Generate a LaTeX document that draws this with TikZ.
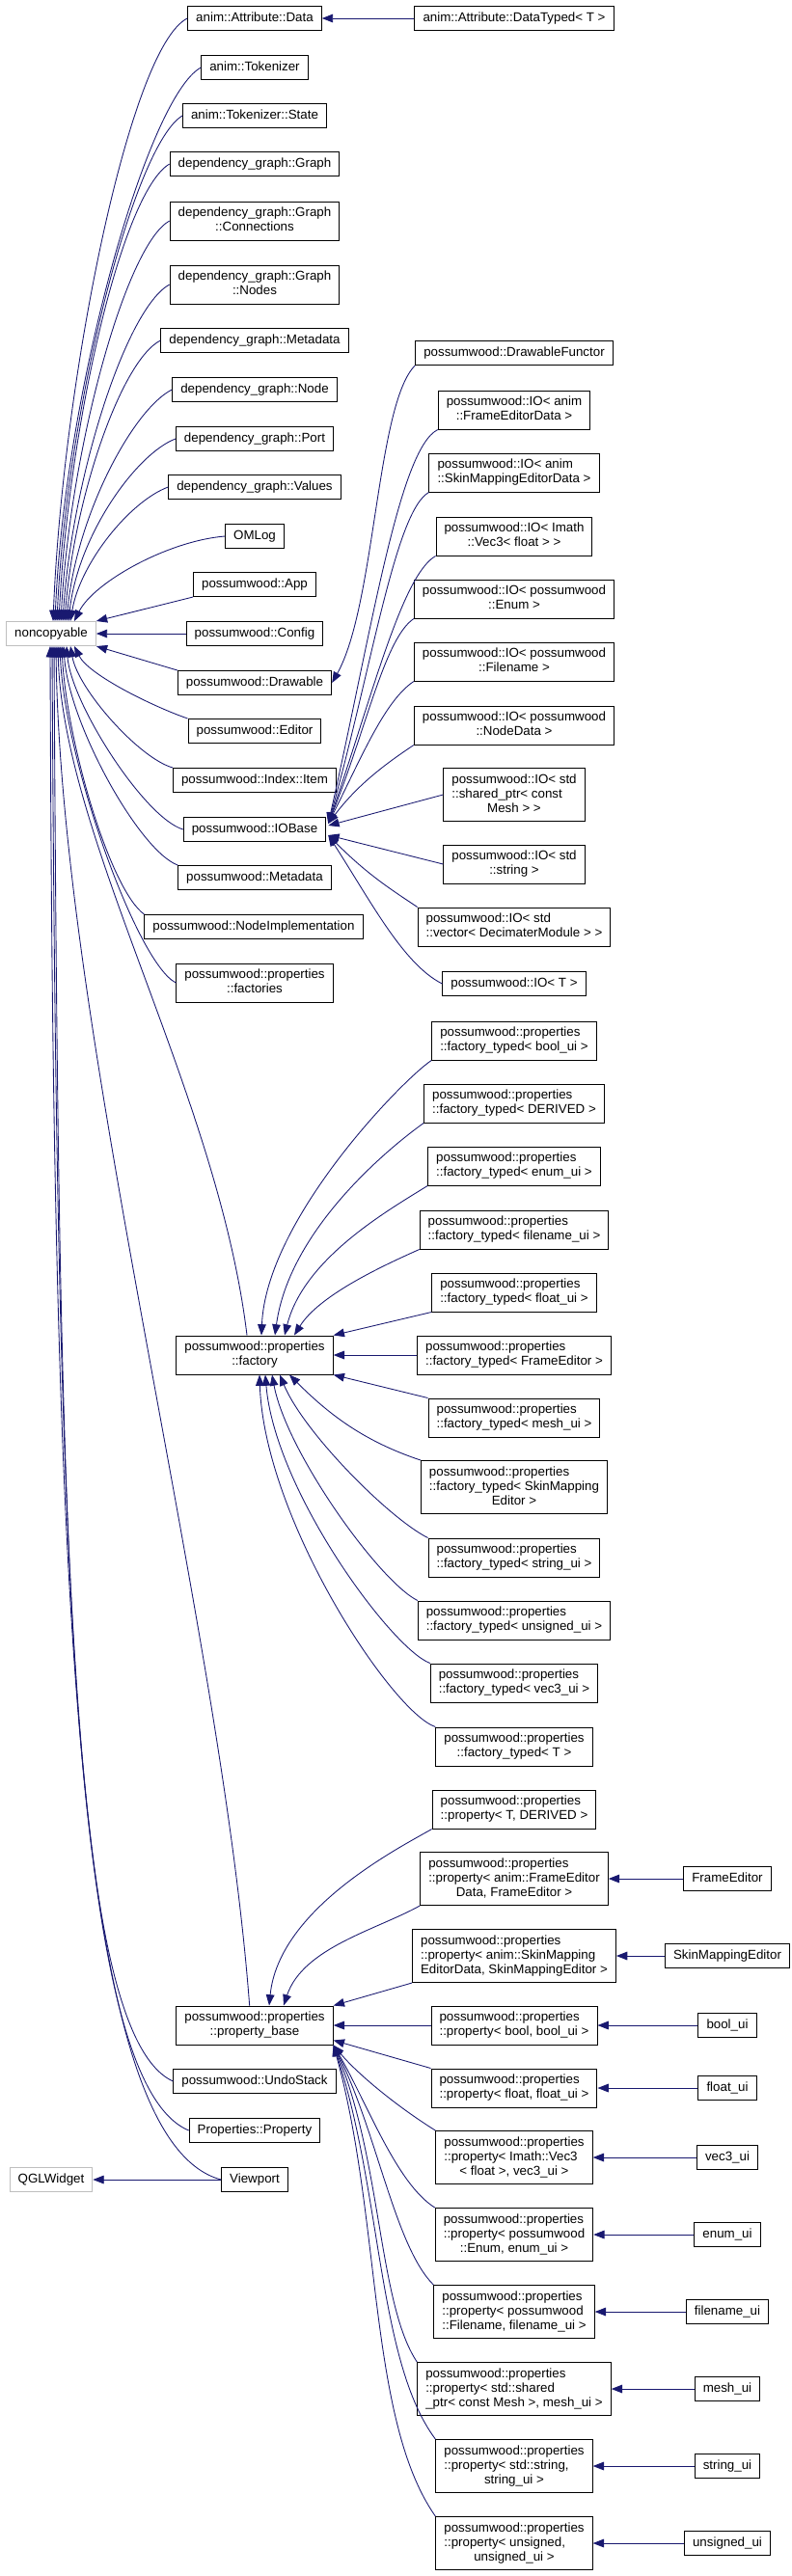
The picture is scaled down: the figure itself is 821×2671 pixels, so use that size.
\documentclass[tikz,border=0pt]{standalone}
\usepackage{fontspec}
\setmainfont{Liberation Sans}
\usetikzlibrary{arrows.meta,calc}
\definecolor{edgeblue}{RGB}{25,25,112}
\definecolor{extgray}{RGB}{191,191,191}
% all lines but the last one left aligned, the last one centred
\newcommand{\clsl}[2]{\begin{tabular}{@{}l@{}}#1\\\multicolumn{1}{@{}c@{}}{#2}\end{tabular}}

\begin{document}
\begin{tikzpicture}[x=0.75pt, y=-0.75pt,
  cls/.style={draw=black, line width=0.75pt, fill=white, inner xsep=6.4pt,
              inner ysep=3.75pt, font=\fontsize{10}{11.25}\selectfont,
              execute at begin node=\strut},
  ext/.style={cls, draw=extgray},
  inh/.style={draw=edgeblue, line width=0.65pt,
              -{Triangle[length=8.5pt,width=6.5pt]}}]
  \useasboundingbox (0,0) rectangle (821,2671);

  % bases
  \node[ext] (nc)  at (53,657)  {noncopyable};
  \node[ext] (qgl) at (53,2260) {QGLWidget};

  % second column
  \node[cls] (attrdata)  at (264,19)   {anim::Attribute::Data};
  \node[cls] (tok)       at (264,70)   {anim::Tokenizer};
  \node[cls] (tokstate)  at (264,120)  {anim::Tokenizer::State};
  \node[cls] (dggraph)   at (264,170)  {dependency\_graph::Graph};
  \node[cls] (dgconn)    at (264,229)  {\clsl{dependency\_graph::Graph}{::Connections}};
  \node[cls] (dgnodes)   at (264,295)  {\clsl{dependency\_graph::Graph}{::Nodes}};
  \node[cls] (dgmeta)    at (264,353)  {dependency\_graph::Metadata};
  \node[cls] (dgnode)    at (264,404)  {dependency\_graph::Node};
  \node[cls] (dgport)    at (264,455)  {dependency\_graph::Port};
  \node[cls] (dgvalues)  at (264,505)  {dependency\_graph::Values};
  \node[cls] (omlog)     at (264,556)  {OMLog};
  \node[cls] (app)       at (264,606)  {possumwood::App};
  \node[cls] (config)    at (264,657)  {possumwood::Config};
  \node[cls] (drawable)  at (264,708)  {possumwood::Drawable};
  \node[cls] (editor)    at (264,758)  {possumwood::Editor};
  \node[cls] (idxitem)   at (264,809)  {possumwood::Index::Item};
  \node[cls] (iobase)    at (264,860)  {possumwood::IOBase};
  \node[cls] (pwmeta)    at (264,910)  {possumwood::Metadata};
  \node[cls] (nodeimpl)  at (263,961)  {possumwood::NodeImplementation};
  \node[cls] (factories) at (264,1019) {\clsl{possumwood::properties}{::factories}};
  \node[cls] (factory)   at (264,1405) {\clsl{possumwood::properties}{::factory}};
  \node[cls] (propbase)  at (264,2100) {\clsl{possumwood::properties}{::property\_base}};
  \node[cls] (undo)      at (264,2158) {possumwood::UndoStack};
  \node[cls] (propprop)  at (264,2209) {Properties::Property};
  \node[cls] (viewport)  at (264,2260) {Viewport};

  % third column
  \node[cls] (attrtyped) at (533,19)   {anim::Attribute::DataTyped< T >};
  \node[cls] (drawfunc)  at (533,366)  {possumwood::DrawableFunctor};
  \node[cls] (ioframe)   at (533,425)  {\clsl{possumwood::IO< anim}{::FrameEditorData >}};
  \node[cls] (ioskin)    at (533,490)  {\clsl{possumwood::IO< anim}{::SkinMappingEditorData >}};
  \node[cls] (iovec)     at (533,556)  {\clsl{possumwood::IO< Imath}{::Vec3< float > >}};
  \node[cls] (ioenum)    at (533,621)  {\clsl{possumwood::IO< possumwood}{::Enum >}};
  \node[cls] (iofile)    at (533,686)  {\clsl{possumwood::IO< possumwood}{::Filename >}};
  \node[cls] (ionode)    at (533,752)  {\clsl{possumwood::IO< possumwood}{::NodeData >}};
  \node[cls] (ioshared)  at (533,824)  {\clsl{possumwood::IO< std\\::shared\_ptr< const}{Mesh > >}};
  \node[cls] (iostring)  at (533,896)  {\clsl{possumwood::IO< std}{::string >}};
  \node[cls] (iovector)  at (533,961)  {\clsl{possumwood::IO< std}{::vector< DecimaterModule > >}};
  \node[cls] (iot)       at (533,1020) {possumwood::IO< T >};
  \node[cls] (ftbool)    at (533,1079) {\clsl{possumwood::properties}{::factory\_typed< bool\_ui >}};
  \node[cls] (ftderived) at (533,1144) {\clsl{possumwood::properties}{::factory\_typed< DERIVED >}};
  \node[cls] (ftenum)    at (533,1209) {\clsl{possumwood::properties}{::factory\_typed< enum\_ui >}};
  \node[cls] (ftfile)    at (533,1275) {\clsl{possumwood::properties}{::factory\_typed< filename\_ui >}};
  \node[cls] (ftfloat)   at (533,1340) {\clsl{possumwood::properties}{::factory\_typed< float\_ui >}};
  \node[cls] (ftframe)   at (533,1405) {\clsl{possumwood::properties}{::factory\_typed< FrameEditor >}};
  \node[cls] (ftmesh)    at (533,1470) {\clsl{possumwood::properties}{::factory\_typed< mesh\_ui >}};
  \node[cls] (ftskin)    at (533,1542) {\clsl{possumwood::properties\\::factory\_typed< SkinMapping}{Editor >}};
  \node[cls] (ftstring)  at (533,1615) {\clsl{possumwood::properties}{::factory\_typed< string\_ui >}};
  \node[cls] (ftunsigned) at (533,1680) {\clsl{possumwood::properties}{::factory\_typed< unsigned\_ui >}};
  \node[cls] (ftvec)     at (533,1745) {\clsl{possumwood::properties}{::factory\_typed< vec3\_ui >}};
  \node[cls] (ftt)       at (533,1811) {\clsl{possumwood::properties}{::factory\_typed< T >}};
  \node[cls] (prt)       at (533,1876) {\clsl{possumwood::properties}{::property< T, DERIVED >}};
  \node[cls] (prframe)   at (533,1948) {\clsl{possumwood::properties\\::property< anim::FrameEditor}{Data, FrameEditor >}};
  \node[cls] (prskin)    at (533,2028) {\clsl{possumwood::properties\\::property< anim::SkinMapping}{EditorData, SkinMappingEditor >}};
  \node[cls] (prbool)    at (533,2100) {\clsl{possumwood::properties}{::property< bool, bool\_ui >}};
  \node[cls] (prfloat)   at (533,2165) {\clsl{possumwood::properties}{::property< float, float\_ui >}};
  \node[cls] (prvec)     at (533,2237) {\clsl{possumwood::properties\\::property< Imath::Vec3}{< float >, vec3\_ui >}};
  \node[cls] (prenum)    at (533,2317) {\clsl{possumwood::properties\\::property< possumwood}{::Enum, enum\_ui >}};
  \node[cls] (prfile)    at (533,2397) {\clsl{possumwood::properties\\::property< possumwood}{::Filename, filename\_ui >}};
  \node[cls] (prmesh)    at (533,2477) {\clsl{possumwood::properties\\::property< std::shared}{\_ptr< const Mesh >, mesh\_ui >}};
  \node[cls] (prstring)  at (533,2557) {\clsl{possumwood::properties\\::property< std::string,}{string\_ui >}};
  \node[cls] (prunsigned) at (533,2637) {\clsl{possumwood::properties\\::property< unsigned,}{unsigned\_ui >}};

  % fourth column
  \node[cls] (frameed)    at (754,1948) {FrameEditor};
  \node[cls] (skined)     at (754,2028) {SkinMappingEditor};
  \node[cls] (boolui)     at (754,2100) {bool\_ui};
  \node[cls] (floatui)    at (754,2165) {float\_ui};
  \node[cls] (vecui)      at (754,2237) {vec3\_ui};
  \node[cls] (enumui)     at (754,2317) {enum\_ui};
  \node[cls] (fileui)     at (754,2397) {filename\_ui};
  \node[cls] (meshui)     at (754,2477) {mesh\_ui};
  \node[cls] (stringui)   at (754,2557) {string\_ui};
  \node[cls] (unsignedui) at (754,2637) {unsigned\_ui};

  % noncopyable, from above
  \draw[inh] (attrdata.west) .. controls +(-60,30) and +(10,-250) .. ($(nc.north)+(2,0)$);
  \draw[inh] (tok.west)      .. controls +(-55,30) and +(10,-240) .. ($(nc.north)+(4,0)$);
  \draw[inh] (tokstate.west) .. controls +(-50,30) and +(10,-220) .. ($(nc.north)+(6,0)$);
  \draw[inh] (dggraph.west)  .. controls +(-50,30) and +(10,-200) .. ($(nc.north)+(8,0)$);
  \draw[inh] (dgconn.west)   .. controls +(-45,25) and +(10,-180) .. ($(nc.north)+(10,0)$);
  \draw[inh] (dgnodes.west)  .. controls +(-45,25) and +(10,-150) .. ($(nc.north)+(12,0)$);
  \draw[inh] (dgmeta.west)   .. controls +(-40,20) and +(10,-130) .. ($(nc.north)+(14,0)$);
  \draw[inh] (dgnode.west)   .. controls +(-40,20) and +(10,-110) .. ($(nc.north)+(16,0)$);
  \draw[inh] (dgport.west)   .. controls +(-40,15) and +(10,-90)  .. ($(nc.north)+(18,0)$);
  \draw[inh] (dgvalues.west) .. controls +(-40,15) and +(10,-60)  .. ($(nc.north)+(20,0)$);
  \draw[inh] (omlog.west)    .. controls +(-60,5)  and +(20,-40)  .. ($(nc.north)+(24,0)$);
  \draw[inh] (app.south west) -- (nc.north east);
  \draw[inh] (config.west) -- (nc.east);

  % noncopyable, from below
  \draw[inh] (drawable.north west) -- (nc.south east);
  \draw[inh] (editor.north west)  .. controls +(-35,-12) and +(15,30)  .. ($(nc.south)+(24,0)$);
  \draw[inh] (idxitem.north west) .. controls +(-35,-10) and +(8,45)   .. ($(nc.south)+(20,0)$);
  \draw[inh] (iobase.west)        .. controls +(-40,-12) and +(5,60)   .. ($(nc.south)+(16,0)$);
  \draw[inh] (pwmeta.north west)  .. controls +(-40,-15) and +(5,80)   .. ($(nc.south)+(13,0)$);
  \draw[inh] (nodeimpl.north west) .. controls +(-35,-25) and +(5,100) .. ($(nc.south)+(11,0)$);
  \draw[inh] (factories.west)     .. controls +(-40,-20) and +(5,120)  .. ($(nc.south)+(9,0)$);
  \draw[inh] ([xshift=-6pt]factory.north) .. controls +(-30,-250) and +(5,200) .. ($(nc.south)+(7,0)$);
  \draw[inh] ([xshift=-4pt]propbase.north) .. controls +(-30,-400) and +(5,400) .. ($(nc.south)+(5,0)$);
  \draw[inh] (undo.west)     .. controls +(-110,-50) and +(5,900)  .. ($(nc.south)+(3,0)$);
  \draw[inh] (propprop.west) .. controls +(-120,-50) and +(5,950)  .. ($(nc.south)+(1,0)$);
  \draw[inh] (viewport.west) .. controls +(-150,-40) and +(3,1000) .. ($(nc.south)+(-1,0)$);
  \draw[inh] (viewport.west) -- (qgl.east);

  % small trees
  \draw[inh] (attrtyped.west) -- (attrdata.east);
  \draw[inh] (drawfunc.south west) .. controls +(-40,40) and +(45,-80) .. (drawable.east);

  % IOBase
  \draw[inh] (ioframe.south west) .. controls +(-40,20) and +(45,-200) .. ($(iobase.east)+(2,-6)$);
  \draw[inh] (ioskin.south west)  .. controls +(-35,20) and +(45,-160) .. ($(iobase.east)+(2,-6)$);
  \draw[inh] (iovec.south west)   .. controls +(-35,20) and +(45,-130) .. ($(iobase.east)+(2,-6)$);
  \draw[inh] (ioenum.south west)  .. controls +(-30,20) and +(40,-100) .. ($(iobase.east)+(2,-6)$);
  \draw[inh] (iofile.south west)  .. controls +(-30,20) and +(35,-70)  .. ($(iobase.east)+(2,-6)$);
  \draw[inh] (ionode.south west)  .. controls +(-30,20) and +(30,-40)  .. ($(iobase.east)+(2,-6)$);
  \draw[inh] (ioshared.west) -- ($(iobase.east)+(2,-4)$);
  \draw[inh] (iostring.west) -- ($(iobase.east)+(2,6)$);
  \draw[inh] (iovector.north west) .. controls +(-30,-20) and +(40,40) .. ($(iobase.east)+(2,6)$);
  \draw[inh] (iot.west)            .. controls +(-40,-20) and +(45,70) .. ($(iobase.east)+(2,6)$);

  % factory
  \draw[inh] (ftbool.south west)    .. controls +(-30,20) and +(5,-120)  .. ($(factory.north)+(7,0)$);
  \draw[inh] (ftderived.south west) .. controls +(-35,25) and +(15,-110) .. ($(factory.north)+(21,0)$);
  \draw[inh] (ftenum.south west)    .. controls +(-40,25) and +(20,-80)  .. ($(factory.north)+(31,0)$);
  \draw[inh] (ftfile.south west)    .. controls +(-45,20) and +(25,-40)  .. ($(factory.north)+(41,0)$);
  \draw[inh] (ftfloat.south west) -- (factory.north east);
  \draw[inh] (ftframe.west) -- (factory.east);
  \draw[inh] (ftmesh.north west) -- (factory.south east);
  \draw[inh] (ftskin.north west)     .. controls +(-60,-20) and +(40,40)  .. ($(factory.south)+(36,0)$);
  \draw[inh] (ftstring.north west)   .. controls +(-40,-20) and +(25,60)  .. ($(factory.south)+(26,0)$);
  \draw[inh] (ftunsigned.north west) .. controls +(-40,-20) and +(15,80)  .. ($(factory.south)+(18,0)$);
  \draw[inh] (ftvec.north west)      .. controls +(-40,-15) and +(10,120) .. ($(factory.south)+(11,0)$);
  \draw[inh] (ftt.north west)        .. controls +(-45,-15) and +(5,150)  .. ($(factory.south)+(5,0)$);

  % property_base
  \draw[inh] (prt.south west)     .. controls +(-35,20) and +(10,-100) .. ($(propbase.north)+(15,0)$);
  \draw[inh] (prframe.south west) .. controls +(-45,25) and +(20,-60)  .. ($(propbase.north)+(30,0)$);
  \draw[inh] (prskin.south west) -- (propbase.north east);
  \draw[inh] (prbool.west) -- (propbase.east);
  \draw[inh] (prfloat.north west) -- ($(propbase.south east)+(0,-5)$);
  \draw[inh] (prvec.north west)      .. controls +(-40,-25) and +(25,30)  .. (propbase.south east);
  \draw[inh] (prenum.north west)     .. controls +(-40,-25) and +(35,60)  .. (propbase.south east);
  \draw[inh] (prfile.north west)     .. controls +(-40,-40) and +(45,90)  .. (propbase.south east);
  \draw[inh] (prmesh.north west)     .. controls +(-40,-60) and +(50,120) .. (propbase.south east);
  \draw[inh] (prstring.north west)   .. controls +(-60,-80) and +(50,150) .. (propbase.south east);
  \draw[inh] (prunsigned.north west) .. controls +(-70,-100) and +(50,180) .. (propbase.south east);

  % leaf classes
  \draw[inh] (frameed.west) -- (prframe.east);
  \draw[inh] (skined.west) -- (prskin.east);
  \draw[inh] (boolui.west) -- (prbool.east);
  \draw[inh] (floatui.west) -- (prfloat.east);
  \draw[inh] (vecui.west) -- (prvec.east);
  \draw[inh] (enumui.west) -- (prenum.east);
  \draw[inh] (fileui.west) -- (prfile.east);
  \draw[inh] (meshui.west) -- (prmesh.east);
  \draw[inh] (stringui.west) -- (prstring.east);
  \draw[inh] (unsignedui.west) -- (prunsigned.east);
\end{tikzpicture}
\end{document}
